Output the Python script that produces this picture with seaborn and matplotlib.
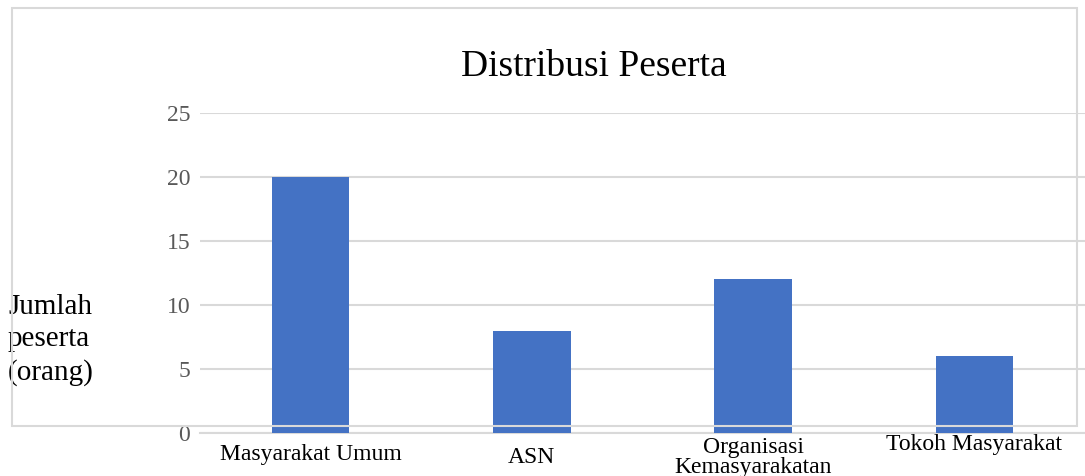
import matplotlib
matplotlib.use("Agg")
import matplotlib.pyplot as plt
import matplotlib.patches as mpatches
import matplotlib.transforms as mtransforms
import seaborn as sns
import pandas as pd

# Data
kategori = ["Masyarakat Umum", "ASN", "Organisasi\nKemasyarakatan", "Tokoh Masyarakat"]
jumlah = [20, 8, 12, 6]

df = pd.DataFrame({"kategori": kategori, "jumlah": jumlah})

sns.set_style("white")
plt.rcParams["font.family"] = ["Liberation Serif", "DejaVu Serif"]
plt.rcParams["text.color"] = "black"

fig = plt.figure(figsize=(10.85, 4.76), dpi=100)
ax = fig.add_axes([200 / 1085, 1 - 433 / 476, 885 / 1085, (433 - 113) / 476])

sns.barplot(data=df, x="kategori", y="jumlah", color="#4472C4", saturation=1,
            width=0.35, ax=ax, zorder=3, linewidth=0)

ax.set_ylim(0, 25)
ax.set_yticks([0, 5, 10, 15, 20, 25])
ax.yaxis.grid(True, color="#d9d9d9", linewidth=1.5, zorder=0)
ax.set_axisbelow(True)
for s in ["top", "right", "left"]:
    ax.spines[s].set_visible(False)
ax.spines["bottom"].set_color("#d9d9d9")
ax.spines["bottom"].set_linewidth(1.5)
ax.tick_params(axis="y", labelsize=17, labelcolor="#595959", length=0, pad=7)
ax.tick_params(axis="x", labelsize=17, labelcolor="black", length=0, pad=4)

# the labels in the original sit at slightly different heights
shift = [-4, -6, 1, 3]
for lbl, dy in zip(ax.get_xticklabels(), shift):
    lbl.set_linespacing(0.9)
    lbl.set_transform(lbl.get_transform() +
                      mtransforms.ScaledTranslation(0, dy / 72, fig.dpi_scale_trans))
ax.set_xlabel("")
ax.set_ylabel("")

fig.text(594 / 1085, 1 - 67 / 476, "Distribusi Peserta", fontsize=27,
         ha="center", va="center")
fig.text(8 / 1085, 1 - 340 / 476, "Jumlah\npeserta\n(orang)", fontsize=21,
         ha="left", va="center", linespacing=1.32)

# outer chart frame
frame = mpatches.Rectangle((12 / 1085, 1 - 426 / 476), (1077 - 12) / 1085, (426 - 8) / 476,
                           transform=fig.transFigure, fill=False,
                           edgecolor="#d9d9d9", linewidth=1.5, zorder=5)
fig.patches.append(frame)

fig.savefig("out.png", dpi=100)
